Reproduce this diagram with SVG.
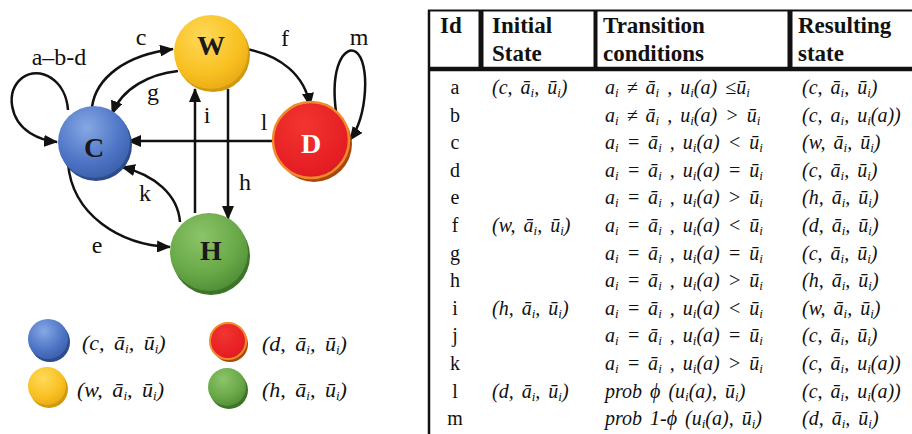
<svg xmlns="http://www.w3.org/2000/svg" width="912" height="434" viewBox="0 0 912 434">
<style>
.lbl{font-family:"Liberation Serif",serif;font-size:24px;fill:#111}
.nl{font-family:"Liberation Serif",serif;font-size:28px;font-weight:bold;text-anchor:middle}
.e{fill:none;stroke:#111;stroke-width:2.5;marker-end:url(#ah)}
.hd{font-family:"Liberation Serif",serif;font-size:23px;font-weight:bold;fill:#111}
.id{font-family:"Liberation Serif",serif;font-size:20px;fill:#111;text-anchor:middle}
.t{font-family:"Liberation Serif",serif;font-size:20px;font-style:italic;fill:#111;word-spacing:3px}
.lg{font-family:"Liberation Serif",serif;font-size:22px;font-style:italic;fill:#111;word-spacing:4px}
.s{font-size:13px;baseline-shift:-3px}
.tl{stroke:#111;fill:none}
</style>
<defs>
<marker id="ah" viewBox="0 0 14 12" refX="13" refY="6" markerWidth="14" markerHeight="12" orient="auto" markerUnits="userSpaceOnUse"><path d="M0,0 L14,6 L0,12 z" fill="#111"/></marker>
<radialGradient id="gB" cx="0.4" cy="0.3" r="0.75"><stop offset="0" stop-color="#86a8e4"/><stop offset="0.65" stop-color="#4d74c5"/><stop offset="1" stop-color="#3a5ea8"/></radialGradient>
<radialGradient id="gY" cx="0.4" cy="0.3" r="0.75"><stop offset="0" stop-color="#ffd95a"/><stop offset="0.65" stop-color="#f8c122"/><stop offset="1" stop-color="#eaa915"/></radialGradient>
<radialGradient id="gR" cx="0.4" cy="0.3" r="0.75"><stop offset="0" stop-color="#f2352f"/><stop offset="0.8" stop-color="#e61e24"/><stop offset="1" stop-color="#d81a20"/></radialGradient>
<radialGradient id="gG" cx="0.4" cy="0.3" r="0.75"><stop offset="0" stop-color="#8cc46a"/><stop offset="0.65" stop-color="#68a847"/><stop offset="1" stop-color="#4f8c36"/></radialGradient>
</defs>
<rect width="912" height="434" fill="#fff"/>

<g id="connectors">
<path class="e" d="M68,110 C66,80 40,65 22,78 C5,92 10,120 30,133 C38,138 46,141 57,142"/>
<path class="e" d="M92,107 C96,78 125,55 173,49"/>
<path class="e" d="M178,71 C150,74 122,88 112,114"/>
<path class="e" d="M246,49 C280,55 305,75 310,106"/>
<path class="e" d="M336,112 C330,65 345,45 356,52 C370,62 368,115 350,140"/>
<path class="e" d="M272,141 L128,141"/>
<path class="e" d="M195,213 L195,89"/>
<path class="e" d="M228,89 L228,219"/>
<path class="e" d="M180,222 C178,195 155,175 122,167"/>
<path class="e" d="M68,163 C72,215 120,245 170,247"/>
<text class="lbl" x="59" y="65" text-anchor="middle">a–b-d</text>
<text class="lbl" x="141" y="45" text-anchor="middle">c</text>
<text class="lbl" x="285" y="46" text-anchor="middle">f</text>
<text class="lbl" x="359" y="45" text-anchor="middle">m</text>
<text class="lbl" x="153" y="100" text-anchor="middle">g</text>
<text class="lbl" x="207" y="123" text-anchor="middle">i</text>
<text class="lbl" x="264" y="130" text-anchor="middle">l</text>
<text class="lbl" x="245" y="190" text-anchor="middle">h</text>
<text class="lbl" x="145" y="201" text-anchor="middle">k</text>
<text class="lbl" x="97" y="253" text-anchor="middle">e</text>
</g>

<g id="node-C">
<circle cx="96" cy="145" r="36" fill="#2c4c8e"/>
<circle cx="94" cy="142" r="36" fill="url(#gB)"/>
<text class="nl" x="94" y="157" fill="#1a1a1a">C</text>
</g>
<g id="node-W">
<circle cx="213" cy="55" r="37" fill="#d09a10"/>
<circle cx="211" cy="52" r="37" fill="url(#gY)"/>
<text class="nl" x="211" y="55" font-size="26" fill="#1a1a1a">W</text>
</g>
<g id="node-D">
<circle cx="314" cy="144" r="38" fill="#a8480f"/>
<circle cx="311" cy="140" r="38" fill="url(#gR)" stroke="#f28a2a" stroke-width="2.5"/>
<text class="nl" x="311" y="153" fill="#fff">D</text>
</g>
<g id="node-H">
<circle cx="211" cy="256" r="39" fill="#3c7428"/>
<circle cx="209" cy="252" r="39" fill="url(#gG)"/>
<text class="nl" x="211" y="260" fill="#1a1a1a">H</text>
</g>

<g id="legend">
<circle cx="50" cy="342" r="20" fill="#2c4c8e"/>
<circle cx="48" cy="339" r="20" fill="url(#gB)"/>
<circle cx="49" cy="389" r="19" fill="#d09a10"/>
<circle cx="47" cy="386" r="19" fill="url(#gY)"/>
<circle cx="230" cy="344" r="18" fill="#a8480f"/>
<circle cx="228" cy="341" r="18" fill="url(#gR)" stroke="#f28a2a" stroke-width="2"/>
<circle cx="229" cy="390" r="19" fill="#3c7428"/>
<circle cx="227" cy="387" r="19" fill="url(#gG)"/>
<text class="lg" x="82" y="350">(c, ā<tspan class="s">i</tspan>, ū<tspan class="s">i</tspan>)</text>
<text class="lg" x="262" y="351">(d, ā<tspan class="s">i</tspan>, ū<tspan class="s">i</tspan>)</text>
<text class="lg" x="77" y="397">(w, ā<tspan class="s">i</tspan>, ū<tspan class="s">i</tspan>)</text>
<text class="lg" x="262" y="397">(h, ā<tspan class="s">i</tspan>, ū<tspan class="s">i</tspan>)</text>
</g>

<g id="table">
<line class="tl" x1="428" y1="10.5" x2="912" y2="10.5" stroke-width="2"/>
<line class="tl" x1="428" y1="69" x2="912" y2="69" stroke-width="4.5"/>
<line class="tl" x1="429" y1="10" x2="429" y2="434" stroke-width="2.5"/>
<line class="tl" x1="481" y1="10" x2="481" y2="69" stroke-width="5"/>
<line class="tl" x1="595.5" y1="10" x2="595.5" y2="69" stroke-width="4"/>
<line class="tl" x1="790" y1="10" x2="790" y2="69" stroke-width="5"/>
<text class="hd" x="440" y="33">Id</text>
<text class="hd" x="492" y="33">Initial</text>
<text class="hd" x="492" y="61">State</text>
<text class="hd" x="603" y="33">Transition</text>
<text class="hd" x="603" y="61">conditions</text>
<text class="hd" x="798" y="33">Resulting</text>
<text class="hd" x="798" y="61">state</text>

<text class="id" x="455" y="94">a</text>
<text class="id" x="455" y="121.6">b</text>
<text class="id" x="455" y="149.2">c</text>
<text class="id" x="455" y="176.8">d</text>
<text class="id" x="455" y="204.4">e</text>
<text class="id" x="455" y="232">f</text>
<text class="id" x="455" y="259.6">g</text>
<text class="id" x="455" y="287.2">h</text>
<text class="id" x="455" y="314.8">i</text>
<text class="id" x="455" y="342.4">j</text>
<text class="id" x="455" y="370">k</text>
<text class="id" x="455" y="397.6">l</text>
<text class="id" x="455" y="425.2">m</text>

<text class="t" x="492" y="94">(c, ā<tspan class="s">i</tspan>, ū<tspan class="s">i</tspan>)</text>
<text class="t" x="492" y="232">(w, ā<tspan class="s">i</tspan>, ū<tspan class="s">i</tspan>)</text>
<text class="t" x="492" y="314.8">(h, ā<tspan class="s">i</tspan>, ū<tspan class="s">i</tspan>)</text>
<text class="t" x="492" y="397.6">(d, ā<tspan class="s">i</tspan>, ū<tspan class="s">i</tspan>)</text>

<text class="t" x="605" y="94">a<tspan class="s">i</tspan> ≠ ā<tspan class="s">i</tspan> , u<tspan class="s">i</tspan>(a) ≤ū<tspan class="s">i</tspan></text>
<text class="t" x="605" y="121.6">a<tspan class="s">i</tspan> ≠ ā<tspan class="s">i</tspan> , u<tspan class="s">i</tspan>(a) &gt; ū<tspan class="s">i</tspan></text>
<text class="t" x="605" y="149.2">a<tspan class="s">i</tspan> = ā<tspan class="s">i</tspan> , u<tspan class="s">i</tspan>(a) &lt; ū<tspan class="s">i</tspan></text>
<text class="t" x="605" y="176.8">a<tspan class="s">i</tspan> = ā<tspan class="s">i</tspan> , u<tspan class="s">i</tspan>(a) = ū<tspan class="s">i</tspan></text>
<text class="t" x="605" y="204.4">a<tspan class="s">i</tspan> = ā<tspan class="s">i</tspan> , u<tspan class="s">i</tspan>(a) &gt; ū<tspan class="s">i</tspan></text>
<text class="t" x="605" y="232">a<tspan class="s">i</tspan> = ā<tspan class="s">i</tspan> , u<tspan class="s">i</tspan>(a) &lt; ū<tspan class="s">i</tspan></text>
<text class="t" x="605" y="259.6">a<tspan class="s">i</tspan> = ā<tspan class="s">i</tspan> , u<tspan class="s">i</tspan>(a) = ū<tspan class="s">i</tspan></text>
<text class="t" x="605" y="287.2">a<tspan class="s">i</tspan> = ā<tspan class="s">i</tspan> , u<tspan class="s">i</tspan>(a) &gt; ū<tspan class="s">i</tspan></text>
<text class="t" x="605" y="314.8">a<tspan class="s">i</tspan> = ā<tspan class="s">i</tspan> , u<tspan class="s">i</tspan>(a) &lt; ū<tspan class="s">i</tspan></text>
<text class="t" x="605" y="342.4">a<tspan class="s">i</tspan> = ā<tspan class="s">i</tspan> , u<tspan class="s">i</tspan>(a) = ū<tspan class="s">i</tspan></text>
<text class="t" x="605" y="370">a<tspan class="s">i</tspan> = ā<tspan class="s">i</tspan> , u<tspan class="s">i</tspan>(a) &gt; ū<tspan class="s">i</tspan></text>
<text class="t" x="605" y="397.6">prob ϕ (u<tspan class="s">i</tspan>(a), ū<tspan class="s">i</tspan>)</text>
<text class="t" x="605" y="425.2">prob 1-ϕ (u<tspan class="s">i</tspan>(a), ū<tspan class="s">i</tspan>)</text>

<text class="t" x="802" y="94">(c, ā<tspan class="s">i</tspan>, ū<tspan class="s">i</tspan>)</text>
<text class="t" x="802" y="121.6">(c, a<tspan class="s">i</tspan>, u<tspan class="s">i</tspan>(a))</text>
<text class="t" x="802" y="149.2">(w, ā<tspan class="s">i</tspan>, ū<tspan class="s">i</tspan>)</text>
<text class="t" x="802" y="176.8">(c, ā<tspan class="s">i</tspan>, ū<tspan class="s">i</tspan>)</text>
<text class="t" x="802" y="204.4">(h, ā<tspan class="s">i</tspan>, ū<tspan class="s">i</tspan>)</text>
<text class="t" x="802" y="232">(d, ā<tspan class="s">i</tspan>, ū<tspan class="s">i</tspan>)</text>
<text class="t" x="802" y="259.6">(c, ā<tspan class="s">i</tspan>, ū<tspan class="s">i</tspan>)</text>
<text class="t" x="802" y="287.2">(h, ā<tspan class="s">i</tspan>, ū<tspan class="s">i</tspan>)</text>
<text class="t" x="802" y="314.8">(w, ā<tspan class="s">i</tspan>, ū<tspan class="s">i</tspan>)</text>
<text class="t" x="802" y="342.4">(c, ā<tspan class="s">i</tspan>, ū<tspan class="s">i</tspan>)</text>
<text class="t" x="802" y="370">(c, ā<tspan class="s">i</tspan>, u<tspan class="s">i</tspan>(a))</text>
<text class="t" x="802" y="397.6">(c, ā<tspan class="s">i</tspan>, u<tspan class="s">i</tspan>(a))</text>
<text class="t" x="802" y="425.2">(d, ā<tspan class="s">i</tspan>, ū<tspan class="s">i</tspan>)</text>
</g>
</svg>
